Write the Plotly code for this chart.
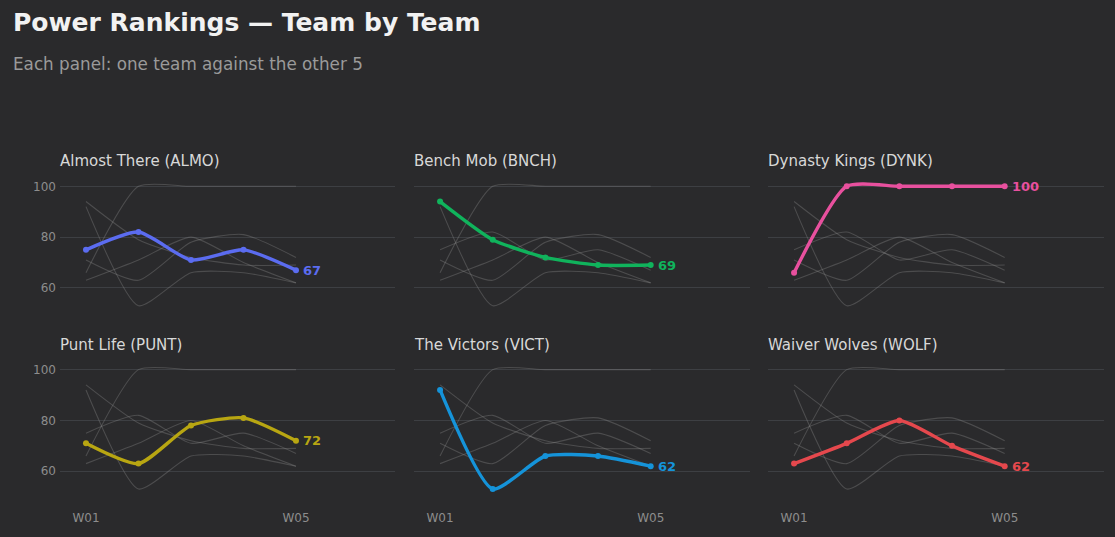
import plotly.graph_objects as go
from plotly.subplots import make_subplots

weeks = ["W01", "W02", "W03", "W04", "W05"]
teams = ["Almost There (ALMO)", "Bench Mob (BNCH)", "Dynasty Kings (DYNK)",
         "Punt Life (PUNT)", "The Victors (VICT)", "Waiver Wolves (WOLF)"]
ALMO = [75, 82, 71, 75, 67]
BNCH = [94, 79, 72, 69, 69]
DYNK = [66, 100, 100, 100, 100]
PUNT = [71, 63, 78, 81, 72]
VICT = [92, 53, 66, 66, 62]
WOLF = [63, 71, 80, 70, 62]
series = [ALMO, BNCH, DYNK, PUNT, VICT, WOLF]
colors = ["#5b6cf0", "#10b35c", "#e8509e", "#b8a612", "#1593d9", "#e5484d"]
x_ticks = ["W01", "W05"]
y_ticks = [60, 80, 100]

W, H = 1115, 537
BG = "#2a2a2c"
GRID = "#3d3f43"
FONT = "DejaVu Sans"
SM = 0.6

fig = make_subplots(rows=2, cols=3)

col_px = [(60, 395), (414, 750), (768, 1104)]
row_px = [(179.9, 317.6), (363.9, 501.6)]

xi = list(range(len(weeks)))

for k, (name, vals, col) in enumerate(zip(teams, series, colors)):
    r, c = k // 3 + 1, k % 3 + 1
    for j, other in enumerate(series):
        if j == k:
            continue
        fig.add_trace(go.Scatter(
            x=xi, y=other, mode="lines",
            line=dict(color="rgba(150,150,150,0.32)", width=1.1, shape="spline", smoothing=SM),
            hoverinfo="skip", showlegend=False), row=r, col=c)
    fig.add_trace(go.Scatter(
        x=xi, y=vals, mode="lines+markers",
        line=dict(color=col, width=3.4, shape="spline", smoothing=SM),
        marker=dict(color=col, size=6),
        showlegend=False, cliponaxis=False), row=r, col=c)
    axn = "" if k == 0 else str(k + 1)
    fig.add_annotation(xref="x" + axn, yref="y" + axn, x=xi[-1], y=vals[-1],
                       text="<b>%d</b>" % vals[-1], showarrow=False,
                       xanchor="left", yanchor="middle", xshift=5,
                       font=dict(family=FONT, size=13, color=col))
    x0, x1 = col_px[c - 1]
    y0, y1 = row_px[r - 1]
    fig.update_xaxes(domain=[x0 / W, x1 / W], range=[-0.495, 5.886],
                     showgrid=False, zeroline=False, showline=False,
                     tickvals=[0, 4], ticktext=x_ticks,
                     showticklabels=(r == 2), ticklabelstandoff=7,
                     tickfont=dict(family=FONT, size=12, color="#8d8d8d"),
                     ticks="", row=r, col=c)
    fig.update_yaxes(domain=[1 - y1 / H, 1 - y0 / H], range=[48, 102],
                     showgrid=True, gridcolor=GRID, gridwidth=1,
                     zeroline=False, showline=False,
                     tickvals=y_ticks, showticklabels=(c == 1), ticklabelstandoff=3,
                     tickfont=dict(family=FONT, size=12, color="#8d8d8d"),
                     ticks="", row=r, col=c)
    fig.add_annotation(xref="paper", yref="paper", x=(x0 - 2) / W, y=1 - (y0 - 20) / H,
                       text=name, showarrow=False, xanchor="left", yanchor="middle",
                       font=dict(family=FONT, size=15, color="#d8d8d8"))

fig.add_annotation(xref="paper", yref="paper", x=11 / W, y=1 - 21 / H,
                   text="<b>Power Rankings — Team by Team</b>", showarrow=False,
                   xanchor="left", yanchor="middle",
                   font=dict(family=FONT, size=25, color="#f2f2f2"))
fig.add_annotation(xref="paper", yref="paper", x=11 / W, y=1 - 62 / H,
                   text="Each panel: one team against the other 5", showarrow=False,
                   xanchor="left", yanchor="middle",
                   font=dict(family=FONT, size=16.8, color="#9a9a9a"))

fig.update_layout(width=W, height=H, margin=dict(l=0, r=0, t=0, b=0),
                  paper_bgcolor=BG, plot_bgcolor=BG,
                  font=dict(family=FONT, color="#cccccc"))

fig.write_html("out.html", config={"displayModeBar": False},
               post_script="document.body.style.margin='0';document.body.style.background='%s';" % BG)
